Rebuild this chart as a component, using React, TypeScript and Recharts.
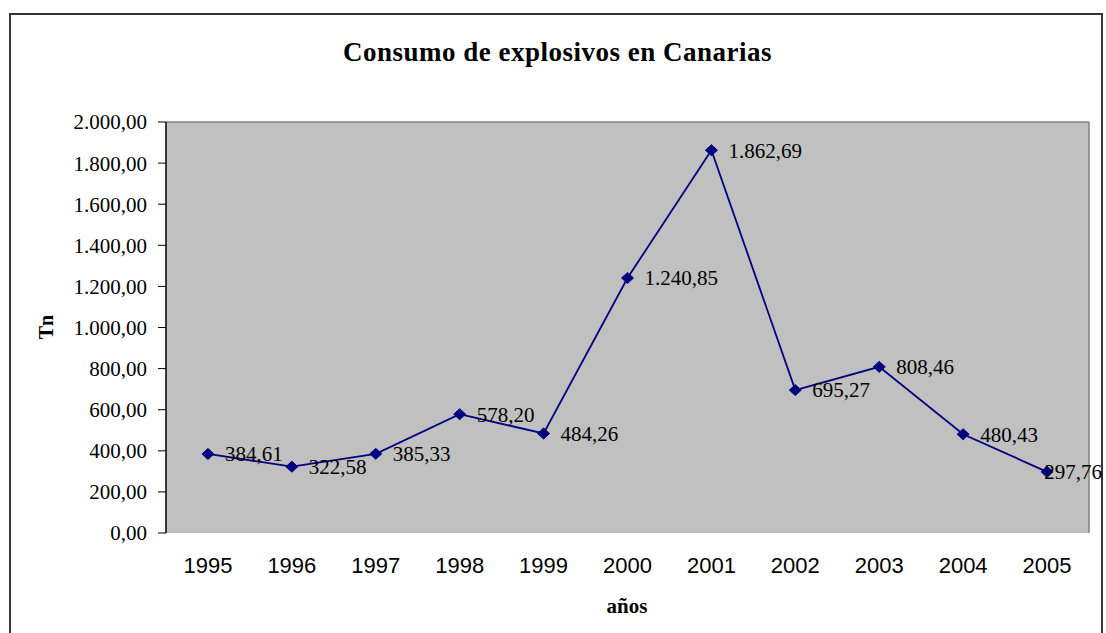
import React from 'react';
import { LineChart, Line, XAxis, YAxis, CartesianGrid, ReferenceLine, LabelList } from 'recharts';

const years = ['1995', '1996', '1997', '1998', '1999', '2000', '2001', '2002', '2003', '2004', '2005'];
const consumo = [384.61, 322.58, 385.33, 578.2, 484.26, 1240.85, 1862.69, 695.27, 808.46, 480.43, 297.76];
const yTicks = [0, 200, 400, 600, 800, 1000, 1200, 1400, 1600, 1800, 2000];
const boundaryTicks = years.map((_, i) => i).concat([years.length]);
const labelTicks = years.map((_, i) => i + 0.5);

const title = 'Consumo de explosivos en Canarias';
const yTitle = 'Tn';
const xTitle = 'años';

const data = years.map((year, i) => ({ pos: i + 0.5, year, value: consumo[i] }));

const SERIF = '"Times New Roman", "Liberation Serif", serif';
const SANS = 'Arial, "Liberation Sans", sans-serif';
const NAVY = '#000080';

const fmt = (v: number) => {
  const [int, dec] = v.toFixed(2).split('.');
  return int.replace(/\B(?=(\d{3})+(?!\d))/g, '.') + ',' + dec;
};

const Diamond = (props: any) => {
  const { cx, cy } = props;
  if (cx == null || cy == null) return null;
  return (
    <path
      d={`M${cx},${cy - 5.5}L${cx + 6},${cy}L${cx},${cy + 5.5}L${cx - 6},${cy}Z`}
      fill={NAVY}
      stroke={NAVY}
      strokeWidth={1}
    />
  );
};

const ValueLabel = (props: any) => {
  const vb = props.viewBox || {};
  const px = vb.x ?? props.x;
  const py = vb.y ?? props.y;
  if (px == null || py == null) return null;
  const text = fmt(Number(props.value));
  let est = 0;
  for (const ch of text) est += /\d/.test(ch) ? 0.5 : 0.25;
  est *= 21;
  let tx = px + 17;
  const maxRight = 1102;
  if (tx + est > maxRight) tx = maxRight - est;
  return (
    <text x={tx} y={py} dy="0.35em" fontFamily={SERIF} fontSize={21} fill="#000">
      {text}
    </text>
  );
};

export default function App() {
  return (
    <div style={{ position: 'fixed', left: 0, top: 0, width: 1106, height: 633, overflow: 'hidden', background: '#fff' }}>
      <div
        style={{
          position: 'absolute',
          left: 9,
          top: 13,
          width: 1094,
          height: 640,
          border: '2px solid #333',
          boxSizing: 'border-box',
        }}
      />
      <div style={{ position: 'absolute', left: 0, top: 0 }}>
        <LineChart width={1106} height={633} data={data} margin={{ top: 122, right: 17, bottom: 60, left: 66 }}>
          <CartesianGrid horizontal={false} vertical={false} fill="#c0c0c0" xAxisId="grid" />
          <XAxis
            xAxisId="grid"
            type="number"
            dataKey="pos"
            domain={[0, years.length]}
            ticks={boundaryTicks}
            interval={0}
            tick={false}
            tickSize={7}
            height={0}
            axisLine={{ stroke: '#000', strokeWidth: 1.5 }}
            tickLine={{ stroke: '#000' }}
          />
          <XAxis
            xAxisId="lab"
            type="number"
            dataKey="pos"
            domain={[0, years.length]}
            ticks={labelTicks}
            interval={0}
            tickFormatter={(v: number) => years[Math.round(v - 0.5)]}
            tickSize={0}
            tickMargin={24}
            height={40}
            axisLine={false}
            tickLine={false}
            tick={{ fontFamily: SANS, fontSize: 22, fill: '#000' }}
          />
          <YAxis
            type="number"
            domain={[0, 2000]}
            ticks={yTicks}
            interval={0}
            width={100}
            tickSize={8}
            tickMargin={11}
            tickFormatter={(v: number) => fmt(v)}
            axisLine={{ stroke: '#000', strokeWidth: 1.5 }}
            tickLine={{ stroke: '#000' }}
            tick={{ fontFamily: SERIF, fontSize: 21, fill: '#000' }}
          />
          <ReferenceLine y={2000} xAxisId="grid" stroke="#808080" strokeWidth={1.5} />
          <ReferenceLine x={years.length} xAxisId="grid" stroke="#808080" strokeWidth={1.5} />
          <Line
            xAxisId="lab"
            type="linear"
            dataKey="value"
            stroke={NAVY}
            strokeWidth={1.8}
            dot={<Diamond />}
            activeDot={false}
            isAnimationActive={false}
          >
            <LabelList dataKey="value" content={<ValueLabel />} />
          </Line>
        </LineChart>
      </div>
      <svg width={1106} height={633} style={{ position: 'absolute', left: 0, top: 0, pointerEvents: 'none' }}>
        <text x={557.5} y={61} textAnchor="middle" fontFamily={SERIF} fontWeight="bold" fontSize={27} letterSpacing={0.5} fill="#000">
          {title}
        </text>
        <text x={53} y={327} textAnchor="middle" transform="rotate(-90 53 327)" fontFamily={SERIF} fontWeight="bold" fontSize={20} fill="#000">
          {yTitle}
        </text>
        <text x={627} y={613} textAnchor="middle" fontFamily={SERIF} fontWeight="bold" fontSize={21} fill="#000">
          {xTitle}
        </text>
      </svg>
    </div>
  );
}
